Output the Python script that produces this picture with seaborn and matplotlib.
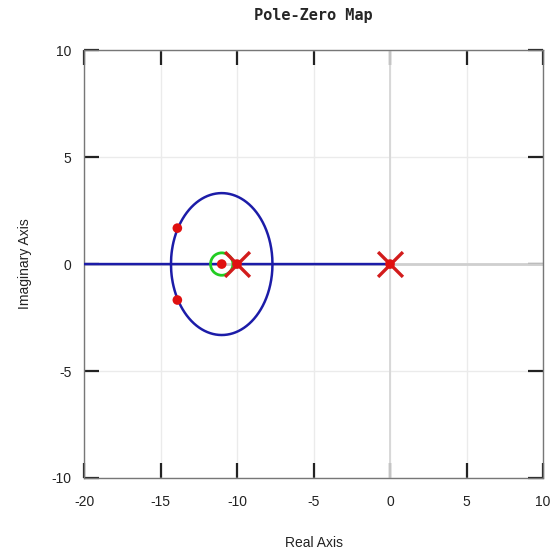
import numpy as np
import pandas as pd
import matplotlib
matplotlib.use("Agg")
import matplotlib.pyplot as plt
import seaborn as sns

# open-loop poles / zero of G(s) = (s + 11) / (s (s + 10))
poles_re = [0.0, -10.0]
poles_im = [0.0, 0.0]
zeros_re = [-11.0]
zeros_im = [0.0]
# closed-loop poles marked on the locus (red dots)
marks_re = [-13.9, -13.9, -11.0, -10.0, 0.0]
marks_im = [1.68, -1.68, 0.0, 0.0, 0.0]
x_ticks = [-20, -15, -10, -5, 0, 5, 10]
y_ticks = [-10, -5, 0, 5, 10]

# root locus: roots of s(s+10) + K(s+11) for a sweep of gains
num = np.poly(zeros_re)
den = np.poly(poles_re)
# breakaway / break-in points: roots of d/ds [den/num] = 0
bp = np.roots(np.polysub(np.polymul(np.polyder(den), num),
                         np.polymul(den, np.polyder(num)))).real
kb = [-np.polyval(den, s) / np.polyval(num, s) for s in bp]
gains = np.sort(np.concatenate([[0.0], np.logspace(-3, 4, 6000), kb]))
rows = []
for k in gains:
    r = np.roots(np.polyadd(den, k * num))
    if abs(r[0].imag) < 1e-6:
        r = sorted(r.real, reverse=True)
        r = [complex(v, 0) for v in r]
    else:
        r = sorted(r, key=lambda z: z.imag, reverse=True)
    for b, z in enumerate(r):
        rows.append({"K": k, "branch": b, "re": z.real, "im": z.imag})
locus = pd.DataFrame(rows)

sns.set_style("white")
plt.rcParams['font.family'] = ['Liberation Sans', 'DejaVu Sans']
plt.rcParams['axes.unicode_minus'] = False

fig = plt.figure(figsize=(5.51, 5.51), dpi=100)
ax = fig.add_axes([0.1525, 0.1325, 0.833, 0.7765])

ax.grid(True, color="#ebebeb", lw=1.0)
ax.axhline(0, color="#cfcfcf", lw=2.0, zorder=1)
ax.axvline(0, color="#d6d6d6", lw=1.3, zorder=1)

sns.lineplot(data=locus, x="re", y="im", units="branch", estimator=None,
             sort=False, color="#1c1ca8", lw=1.8, ax=ax, zorder=3)

ax.scatter(poles_re, poles_im, marker="x", s=320, color="#d21c1c",
           linewidths=2.4, zorder=5)
ax.scatter(zeros_re, zeros_im, marker="o", s=260, facecolors="none",
           edgecolors="#22cc22", linewidths=2.0, zorder=4)
ax.scatter(marks_re, marks_im, marker="o", s=48, color="#e01010",
           edgecolors="none", zorder=6)

ax.set_xlim(-20, 10)
ax.set_ylim(-10, 10)
ax.set_xticks(x_ticks)
ax.set_yticks(y_ticks)
ax.tick_params(direction="in", length=11, width=1.6, color="#222222",
               top=True, right=True, bottom=True, left=True,
               labelsize=10, labelcolor="#222222")
ax.tick_params(axis="x", pad=12)
ax.tick_params(axis="y", pad=9)
for s in ax.spines.values():
    s.set_color("#777777")
    s.set_linewidth(1.0)

ax.set_xlabel("Real Axis", fontsize=10, labelpad=20, color="#222222")
ax.set_ylabel("Imaginary Axis", fontsize=10, labelpad=14, color="#222222")
ax.set_title("Pole-Zero Map", fontsize=11, fontweight="bold",
             family=["DejaVu Sans Mono"], pad=22)

fig.savefig("out.png", dpi=100)
